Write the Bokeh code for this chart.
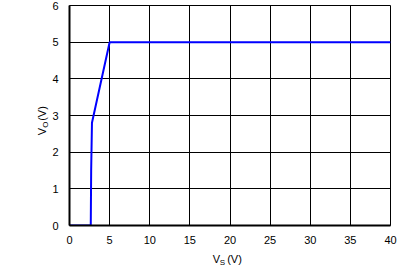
from bokeh.plotting import figure
from bokeh.models import Range1d, FixedTicker, LinearAxis
from bokeh.embed import file_html
from bokeh.resources import INLINE

vs = [0.0, 2.65, 2.7, 2.8, 5.0, 40.0]
vo = [0.0, 0.0, 1.5, 2.8, 5.0, 5.0]
x_ticks = [0, 5, 10, 15, 20, 25, 30, 35, 40]
y_ticks = [0, 1, 2, 3, 4, 5, 6]

# axis title pieces (text, placement in frame pixels along the axis)
x_title_main = ["V", "(V)"]
x_title_main_pos = [147, 165]
x_title_sub = ["S"]
x_title_sub_pos = [153]
y_title_main = ["V", "(V)"]
y_title_main_pos = [94, 112]
y_title_sub = ["O"]
y_title_sub_pos = [101]

FONT = "Liberation Sans"

p = figure(frame_width=321, frame_height=220, output_backend="svg", toolbar_location=None,
           x_range=Range1d(0, 40), y_range=Range1d(0, 6),
           min_border_left=69, min_border_right=16, min_border_top=5, min_border_bottom=45)
p.extra_x_ranges = {"px": Range1d(0, 321)}
p.extra_y_ranges = {"px": Range1d(0, 220)}
p.outline_line_color = "black"
p.outline_line_width = 1

def style(ax):
    ax.major_tick_out = 0
    ax.major_tick_in = 0
    ax.minor_tick_out = 0
    ax.minor_tick_in = 0
    ax.major_label_text_font = FONT
    ax.major_label_text_font_size = "11px"
    ax.major_label_text_color = "black"

for ax in (p.xaxis[0], p.yaxis[0]):
    style(ax)
    ax.axis_line_color = "black"
    ax.axis_line_width = 2

p.xaxis.ticker = FixedTicker(ticks=x_ticks)
p.yaxis.ticker = FixedTicker(ticks=y_ticks)
p.xaxis.major_label_standoff = 10
p.yaxis.major_label_standoff = 11

p.xgrid.ticker = FixedTicker(ticks=x_ticks)
p.ygrid.ticker = FixedTicker(ticks=y_ticks)
for g in (p.xgrid, p.ygrid):
    g.grid_line_color = "black"
    g.grid_line_width = 1
    g.grid_line_alpha = 1

p.line(vs, vo, line_color="#0000ff", line_width=2)

def piece_axis(side, pos, texts, size, standoff):
    overrides = {}
    for t, s in zip(pos, texts):
        overrides[t] = s
        overrides[str(t)] = s
    kw = {"x_range_name": "px"} if side == "below" else {"y_range_name": "px"}
    ax = LinearAxis(ticker=FixedTicker(ticks=pos), major_label_overrides=overrides, **kw)
    style(ax)
    ax.axis_line_color = None
    ax.major_label_text_font_size = size
    ax.major_label_standoff = standoff
    if side == "left":
        ax.major_label_orientation = "parallel"
    p.add_layout(ax, side)

piece_axis("below", x_title_main_pos, x_title_main, "11px", 6)
piece_axis("below", x_title_sub_pos, x_title_sub, "8px", -10)
piece_axis("left", y_title_sub_pos, y_title_sub, "8px", 0)
piece_axis("left", y_title_main_pos, y_title_main, "11px", -10)

open("out.html", "w").write(file_html(p, INLINE))
